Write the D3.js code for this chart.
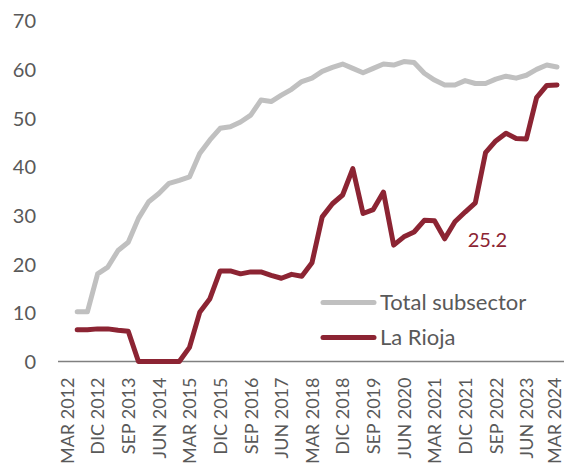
<!DOCTYPE html>
<html>
<head>
<meta charset="utf-8">
<script src="https://cdn.jsdelivr.net/npm/d3@7"></script>
<style>
  html, body { margin: 0; padding: 0; background: #ffffff; }
  svg { display: block; }
  text { font-family: Lato, "Noto Sans", sans-serif; }
</style>
</head>
<body>
<svg id="chart" width="566" height="467"></svg>
<script>
const quarters = [
  "MAR 2012","JUN 2012","SEP 2012","DIC 2012",
  "MAR 2013","JUN 2013","SEP 2013","DIC 2013",
  "MAR 2014","JUN 2014","SEP 2014","DIC 2014",
  "MAR 2015","JUN 2015","SEP 2015","DIC 2015",
  "MAR 2016","JUN 2016","SEP 2016","DIC 2016",
  "MAR 2017","JUN 2017","SEP 2017","DIC 2017",
  "MAR 2018","JUN 2018","SEP 2018","DIC 2018",
  "MAR 2019","JUN 2019","SEP 2019","DIC 2019",
  "MAR 2020","JUN 2020","SEP 2020","DIC 2020",
  "MAR 2021","JUN 2021","SEP 2021","DIC 2021",
  "MAR 2022","JUN 2022","SEP 2022","DIC 2022",
  "MAR 2023","JUN 2023","SEP 2023","DIC 2023",
  "MAR 2024"
];
const xTickLabels = [
  "MAR 2012","DIC 2012","SEP 2013","JUN 2014","MAR 2015","DIC 2015",
  "SEP 2016","JUN 2017","MAR 2018","DIC 2018","SEP 2019","JUN 2020",
  "MAR 2021","DIC 2021","SEP 2022","JUN 2023","MAR 2024"
];
const yTicks = [0, 10, 20, 30, 40, 50, 60, 70];

const totalSubsector = [
  null,
  10.2, 10.2, 18.0, 19.4, 22.8, 24.5, 29.4, 32.8, 34.5, 36.6,
  37.2, 37.9, 42.7, 45.5, 47.9, 48.2, 49.2, 50.6, 53.7, 53.4,
  54.7, 55.9, 57.5, 58.2, 59.6, 60.4, 61.1, 60.2, 59.3, 60.2,
  61.1, 60.9, 61.6, 61.4, 59.2, 57.8, 56.8, 56.8, 57.7, 57.1,
  57.1, 58.0, 58.6, 58.2, 58.8, 60.0, 60.9, 60.5
];
const laRioja = [
  null,
  6.5, 6.5, 6.7, 6.7, 6.4, 6.2, 0, 0, 0, 0,
  0, 2.9, 10.1, 12.9, 18.6, 18.6, 18.0, 18.4, 18.4, 17.7,
  17.1, 17.9, 17.5, 20.3, 29.7, 32.4, 34.2, 39.6, 30.4, 31.2,
  34.8, 23.9, 25.6, 26.6, 29.0, 28.9, 25.2, 28.7, 30.7, 32.6,
  42.9, 45.3, 46.9, 45.8, 45.7, 54.2, 56.7, 56.8
];
const seriesNames = ["Total subsector", "La Rioja"];
const seriesColors = ["#c0c0c0", "#8c2433"];
const annotationValue = 25.2;
const annotationIndex = 37;

const svg = d3.select("#chart");
const textColor = "#595959";

const x = d3.scalePoint().domain(quarters).range([67, 557]);
const y = d3.scaleLinear().domain([0, 70]).range([361.5, 20.7]);

// Y axis
const yAxis = svg.append("g")
  .attr("transform", "translate(36,0)")
  .call(d3.axisLeft(y).tickValues(yTicks).tickSize(0).tickPadding(0).tickFormat(d3.format("d")));
yAxis.select(".domain").remove();
yAxis.selectAll("text")
  .attr("fill", textColor)
  .style("font-size", "20px")
  .attr("dy", "0.35em");

// X axis
const xAxis = svg.append("g")
  .attr("transform", `translate(0,${y(0)})`)
  .call(d3.axisBottom(x).tickValues(xTickLabels).tickSize(0).tickPadding(0));
xAxis.select(".domain").remove();
xAxis.selectAll("text")
  .attr("fill", textColor)
  .style("font-size", "18px")
  .attr("transform", "rotate(-90)")
  .attr("x", -16)
  .attr("y", 0)
  .attr("dy", (d, i, n) => i === n.length - 1 ? "0.18em" : "0.35em")
  .style("text-anchor", "end");

svg.append("line")
  .attr("x1", 58).attr("x2", 564)
  .attr("y1", y(0)).attr("y2", y(0))
  .attr("stroke", "#808080").attr("stroke-width", 1.5);

const line = d3.line()
  .defined(d => d != null)
  .x((d, i) => x(quarters[i]))
  .y(d => y(d));

[totalSubsector, laRioja].forEach((s, k) => {
  svg.append("path")
    .datum(s)
    .attr("fill", "none")
    .attr("stroke", seriesColors[k])
    .attr("stroke-width", 5)
    .attr("stroke-linejoin", "round")
    .attr("stroke-linecap", "round")
    .attr("d", line);
});

// annotation
svg.append("text")
  .attr("x", x(quarters[annotationIndex]) + 23)
  .attr("y", y(annotationValue) + 8)
  .attr("fill", seriesColors[1])
  .style("font-size", "20px")
  .text(d3.format(".1f")(annotationValue));

// legend
const legendY = [302.5, 337.5];
seriesNames.forEach((name, k) => {
  svg.append("line")
    .attr("x1", 323).attr("x2", 374)
    .attr("y1", legendY[k]).attr("y2", legendY[k])
    .attr("stroke", seriesColors[k])
    .attr("stroke-width", 5)
    .attr("stroke-linecap", "round");
  svg.append("text")
    .attr("x", 380)
    .attr("y", legendY[k])
    .attr("dy", "0.35em")
    .attr("fill", textColor)
    .style("font-size", "22px")
    .text(name);
});
</script>
</body>
</html>
